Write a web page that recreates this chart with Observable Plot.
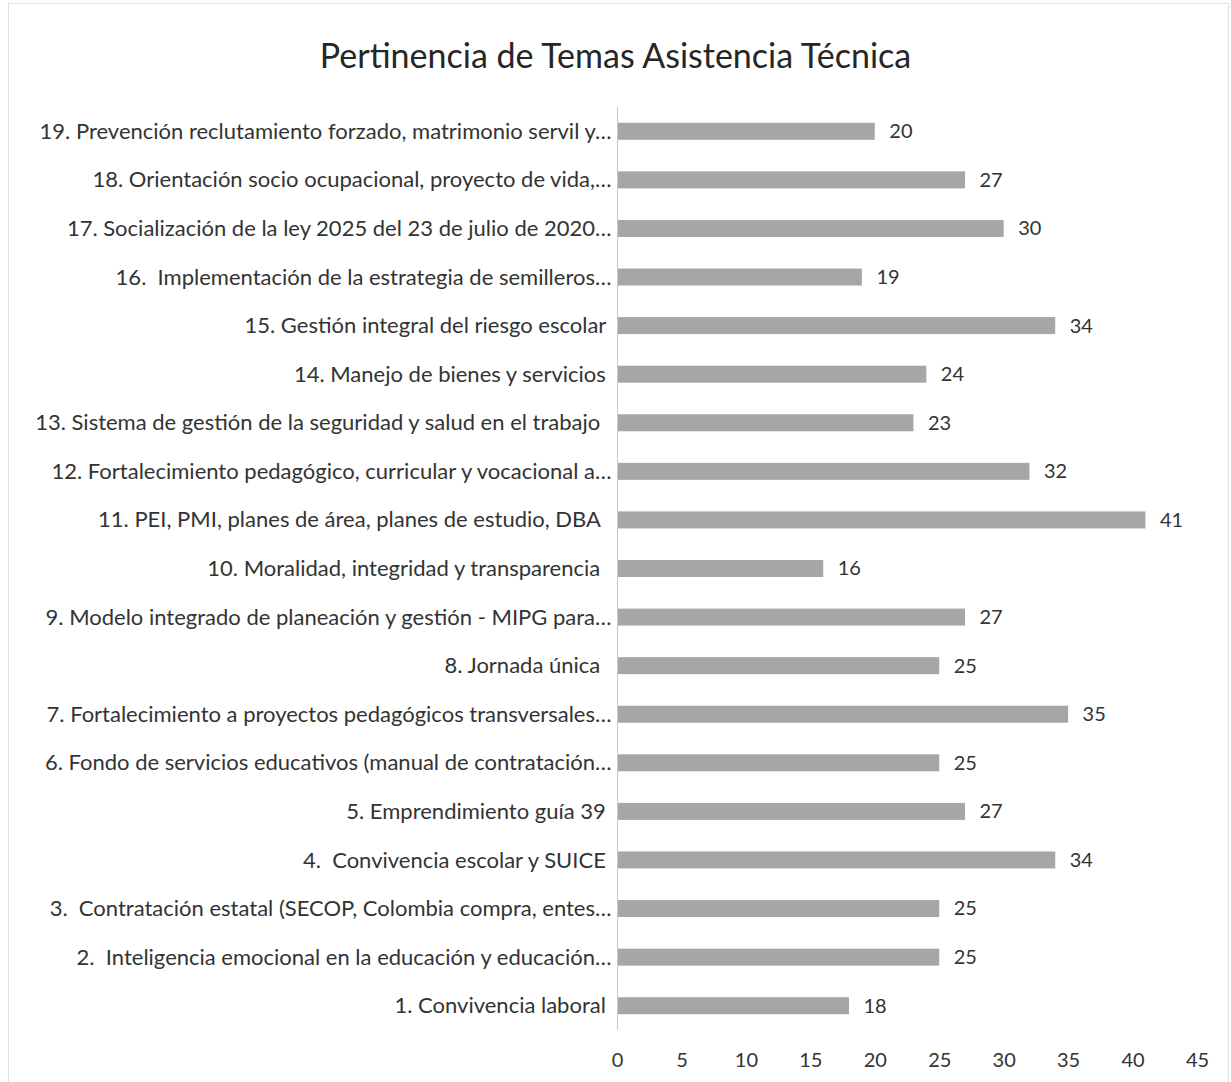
<!DOCTYPE html>
<html>
<head>
<meta charset="utf-8">
<script src="https://cdn.jsdelivr.net/npm/d3@7"></script>
<script src="https://cdn.jsdelivr.net/npm/@observablehq/plot@0.6"></script>
<style>
  html, body { margin: 0; padding: 0; background: #fff; }
  #wrap { position: relative; width: 1231px; height: 1082px; overflow: hidden; font-family: Lato, "Open Sans", sans-serif; }
  #frame { position: absolute; left: 8px; top: 3px; right: 2px; bottom: -5px; border: 1px solid #e0e0e0; pointer-events: none; }
  #title { position: absolute; top: 0; left: 0; width: 1231px; height: 100px; line-height: 110px; text-align: center; font-size: 34px; color: #262626; }
  #chart { position: absolute; top: 100px; left: 0; }
  #chart svg text { white-space: pre; }
</style>
</head>
<body>
<div id="wrap">
  <div id="frame"></div>
  <div id="title">Pertinencia de Temas Asistencia Técnica</div>
  <div id="chart"></div>
</div>
<script>
const categories = [
  "1. Convivencia laboral ",
  "2.  Inteligencia emocional en la educación y educación…",
  "3.  Contratación estatal (SECOP, Colombia compra, entes…",
  "4.  Convivencia escolar y SUICE ",
  "5. Emprendimiento guía 39 ",
  "6. Fondo de servicios educativos (manual de contratación…",
  "7. Fortalecimiento a proyectos pedagógicos transversales…",
  "8. Jornada única  ",
  "9. Modelo integrado de planeación y gestión - MIPG para…",
  "10. Moralidad, integridad y transparencia  ",
  "11. PEI, PMI, planes de área, planes de estudio, DBA  ",
  "12. Fortalecimiento pedagógico, curricular y vocacional a…",
  "13. Sistema de gestión de la seguridad y salud en el trabajo  ",
  "14. Manejo de bienes y servicios ",
  "15. Gestión integral del riesgo escolar ",
  "16.  Implementación de la estrategia de semilleros…",
  "17. Socialización de la ley 2025 del 23 de julio de 2020…",
  "18. Orientación socio ocupacional, proyecto de vida,…",
  "19. Prevención reclutamiento forzado, matrimonio servil y…"
];
const values = [18, 25, 25, 34, 27, 25, 35, 25, 27, 16, 41, 32, 23, 24, 34, 19, 30, 27, 20];
const xTicks = [0, 5, 10, 15, 20, 25, 30, 35, 40, 45];

const data = categories.map((c, i) => ({ label: c, value: values[i] }));
const order = categories.slice().reverse();

const chart = Plot.plot({
  width: 1231,
  height: 982,
  marginLeft: 617,
  marginRight: 34,
  marginTop: 7,
  marginBottom: 52,
  style: { fontFamily: "Lato, 'Open Sans', sans-serif", color: "#333", background: "transparent" },
  x: { domain: [0, 45], ticks: xTicks, label: null },
  y: { domain: order, paddingInner: 0.65, paddingOuter: 0.325, round: false, label: null },
  marks: [
    Plot.barX(data, { y: "label", x: "value", fill: "#a6a6a6" }),
    Plot.ruleX([0], { stroke: "#c8c8c8", strokeWidth: 1 }),
    Plot.text(data, { y: "label", x: "value", text: d => String(d.value), textAnchor: "start", dx: 14, fontSize: 20, fill: "#333" }),
    Plot.axisX({ ticks: xTicks, tickSize: 0, tickPadding: 22, fontSize: 20, label: null, anchor: "bottom" }),
    Plot.axisY({ tickSize: 0, tickPadding: 6, fontSize: 22, label: null, anchor: "left", tickFormat: d => d })
  ]
});
document.getElementById("chart").appendChild(chart);
</script>
</body>
</html>
